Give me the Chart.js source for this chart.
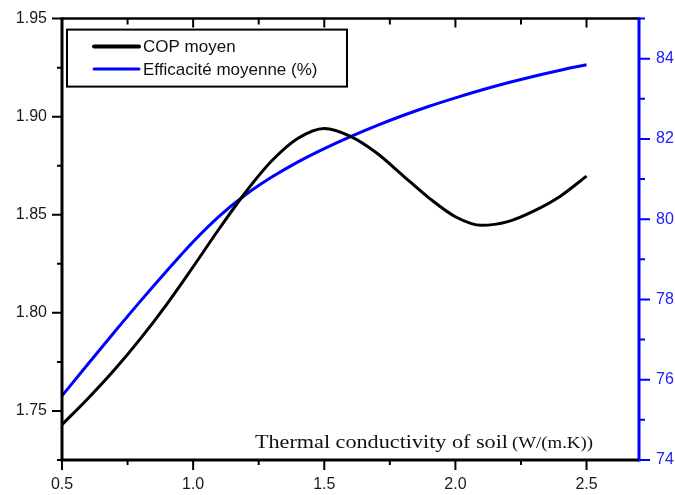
<!DOCTYPE html>
<html>
<head>
<meta charset="utf-8">
<script src="https://cdn.jsdelivr.net/npm/chart.js@4.4.0/dist/chart.umd.min.js"></script>
<style>
  html, body { margin: 0; padding: 0; background: #fff; }
  #wrap { width: 675px; height: 495px; }
</style>
</head>
<body>
<div id="wrap"><canvas id="myCanvas" width="675" height="495"></canvas></div>
<script>
// values
const conductivity = [0.5, 0.6, 0.7, 0.8, 0.9, 1.0, 1.1, 1.2, 1.3, 1.4, 1.5,
  1.6, 1.7, 1.8, 1.9, 2.0, 2.1, 2.2, 2.3, 2.4, 2.5];
const copMoyen = [1.743, 1.7565, 1.771, 1.787, 1.8045, 1.8235, 1.843, 1.8615, 1.8775, 1.889, 1.894,
  1.890, 1.8815, 1.870, 1.8585, 1.849, 1.8446, 1.8465, 1.852, 1.8595, 1.8697];
const efficacite = [75.6, 76.4, 77.19, 77.965, 78.715, 79.44, 80.08, 80.61, 81.05, 81.43, 81.76,
  82.06, 82.335, 82.585, 82.815, 83.025, 83.22, 83.4, 83.565, 83.715, 83.85];

const xTicks = [0.5, 1.0, 1.5, 2.0, 2.5];
const copTicks = [1.75, 1.80, 1.85, 1.90, 1.95];
const effTicks = [74, 76, 78, 80, 82, 84];

const labelFont = { family: "'Liberation Sans', Arial, sans-serif", size: 16 };

function midpoints(arr, min, max) {
  const step = arr[1] - arr[0];
  const out = [];
  for (let v = arr[0] - step / 2; v <= max + 1e-9; v += step) {
    if (v >= min - 1e-9) out.push(v);
  }
  return out;
}

// axes, tick marks, legend and axis title
const framePlugin = {
  id: "frame",
  afterDraw(chart) {
    const ctx = chart.ctx;
    const a = chart.chartArea;
    const sx = chart.scales.x, sl = chart.scales.y, sr = chart.scales.y2;
    ctx.save();
    ctx.lineCap = "butt";

    // black frame: left, bottom, top
    ctx.strokeStyle = "#000";
    ctx.lineWidth = 3;
    ctx.beginPath();
    ctx.moveTo(a.left, a.top - 1);
    ctx.lineTo(a.left, a.bottom + 1.5);
    ctx.moveTo(a.left - 1.5, a.bottom);
    ctx.lineTo(a.right, a.bottom);
    ctx.stroke();
    ctx.lineWidth = 2.5;
    ctx.beginPath();
    ctx.moveTo(a.left, a.top);
    ctx.lineTo(a.right, a.top);
    ctx.stroke();

    // x ticks
    ctx.lineWidth = 2;
    ctx.beginPath();
    xTicks.forEach(v => {
      const px = sx.getPixelForValue(v);
      ctx.moveTo(px, a.bottom); ctx.lineTo(px, a.bottom + 10);
      if (v > sx.min) { ctx.moveTo(px, a.top); ctx.lineTo(px, a.top + 9); }
    });
    midpoints(xTicks, sx.min, sx.max).forEach(v => {
      const px = sx.getPixelForValue(v);
      ctx.moveTo(px, a.bottom); ctx.lineTo(px, a.bottom + 5);
      ctx.moveTo(px, a.top); ctx.lineTo(px, a.top + 6);
    });
    // left ticks
    copTicks.forEach(v => {
      const py = sl.getPixelForValue(v);
      ctx.moveTo(a.left, py); ctx.lineTo(a.left - 10, py);
    });
    midpoints(copTicks, sl.min, sl.max).forEach(v => {
      const py = sl.getPixelForValue(v);
      ctx.moveTo(a.left, py); ctx.lineTo(a.left - 5, py);
    });
    ctx.stroke();

    // right blue axis
    ctx.strokeStyle = "#0000ff";
    ctx.lineWidth = 3;
    ctx.beginPath();
    ctx.moveTo(a.right, a.top - 1);
    ctx.lineTo(a.right, a.bottom + 1.5);
    ctx.stroke();
    ctx.lineWidth = 2;
    ctx.beginPath();
    effTicks.forEach(v => {
      const py = sr.getPixelForValue(v);
      ctx.moveTo(a.right, py); ctx.lineTo(a.right + 11, py);
    });
    midpoints(effTicks, sr.min, sr.max).forEach(v => {
      const py = sr.getPixelForValue(v);
      ctx.moveTo(a.right, py); ctx.lineTo(a.right + 6, py);
    });
    ctx.stroke();

    // legend box
    const bx = a.left + 5, by = a.top + 11, bw = 280, bh = 57;
    ctx.strokeStyle = "#000";
    ctx.lineWidth = 2;
    ctx.strokeRect(bx, by, bw, bh);
    ctx.font = "17px 'Liberation Sans', Arial, sans-serif";
    ctx.textBaseline = "middle";
    ctx.fillStyle = "#111";
    chart.data.datasets.forEach((ds, i) => {
      const ly = by + 17 + i * 22.5;
      ctx.strokeStyle = ds.borderColor;
      ctx.lineWidth = i === 0 ? 4 : 3;
      ctx.lineCap = "round";
      ctx.beginPath();
      ctx.moveTo(bx + 27, ly);
      ctx.lineTo(bx + 72, ly);
      ctx.stroke();
      ctx.fillText(ds.label, bx + 76, ly + 1);
    });

    // x axis title, inside the plot
    ctx.fillStyle = "#111";
    ctx.textBaseline = "alphabetic";
    ctx.font = "19px 'Liberation Serif', 'Times New Roman', serif";
    const t1 = "Thermal conductivity of soil";
    const w1 = ctx.measureText(t1).width;
    ctx.save();
    ctx.translate(255, 448);
    ctx.scale(253 / w1, 1);
    ctx.fillText(t1, 0, 0);
    ctx.restore();
    ctx.font = "16px 'Liberation Serif', 'Times New Roman', serif";
    const t2 = "(W/(m.K))";
    const w2 = ctx.measureText(t2).width;
    ctx.save();
    ctx.translate(512, 448);
    ctx.scale(81 / w2, 1);
    ctx.fillText(t2, 0, 0);
    ctx.restore();

    ctx.restore();
  }
};

function createChart() {
  const canvas = document.getElementById("myCanvas");
  const ctx = canvas.getContext("2d");

  const data = {
    labels: conductivity,
    datasets: [
      {
        label: "COP moyen",
        data: conductivity.map((x, i) => ({ x: x, y: copMoyen[i] })),
        borderColor: "#000000",
        borderWidth: 3,
        yAxisID: "y",
      },
      {
        label: "Efficacité moyenne (%)",
        data: conductivity.map((x, i) => ({ x: x, y: efficacite[i] })),
        borderColor: "#0000ff",
        borderWidth: 3,
        yAxisID: "y2",
      },
    ],
  };

  const options = {
    responsive: false,
    animation: false,
    layout: { padding: { top: 17, left: 0, right: 0, bottom: 0 } },
    elements: {
      point: { radius: 0 },
      line: { cubicInterpolationMode: "monotone", fill: false },
    },
    plugins: {
      legend: { display: false },
      tooltip: { enabled: false },
    },
    scales: {
      x: {
        type: "linear",
        min: 0.5,
        max: 2.7,
        grid: { display: false },
        border: { display: false },
        afterBuildTicks: s => { s.ticks = xTicks.map(v => ({ value: v })); },
        afterFit: s => { s.height = 35; },
        ticks: {
          font: labelFont,
          color: "#1a1a1a",
          padding: 7,
          autoSkip: false,
          maxRotation: 0,
          callback: v => v.toFixed(1),
        },
      },
      y: {
        position: "left",
        min: 1.725,
        max: 1.95,
        grid: { display: false },
        border: { display: false },
        afterBuildTicks: s => { s.ticks = copTicks.map(v => ({ value: v })); },
        afterFit: s => { s.width = 62; },
        ticks: {
          font: labelFont,
          color: "#1a1a1a",
          padding: 7,
          callback: v => v.toFixed(2),
        },
      },
      y2: {
        position: "right",
        min: 74,
        max: 85,
        grid: { display: false },
        border: { display: false },
        afterBuildTicks: s => { s.ticks = effTicks.map(v => ({ value: v })); },
        afterFit: s => { s.width = 36; },
        ticks: {
          font: labelFont,
          color: "#2020ff",
          padding: 9,
          callback: v => String(v),
        },
      },
    },
  };

  new Chart(ctx, {
    type: "line",
    data: data,
    options: options,
    plugins: [framePlugin],
  });
}

createChart();
</script>
</body>
</html>
